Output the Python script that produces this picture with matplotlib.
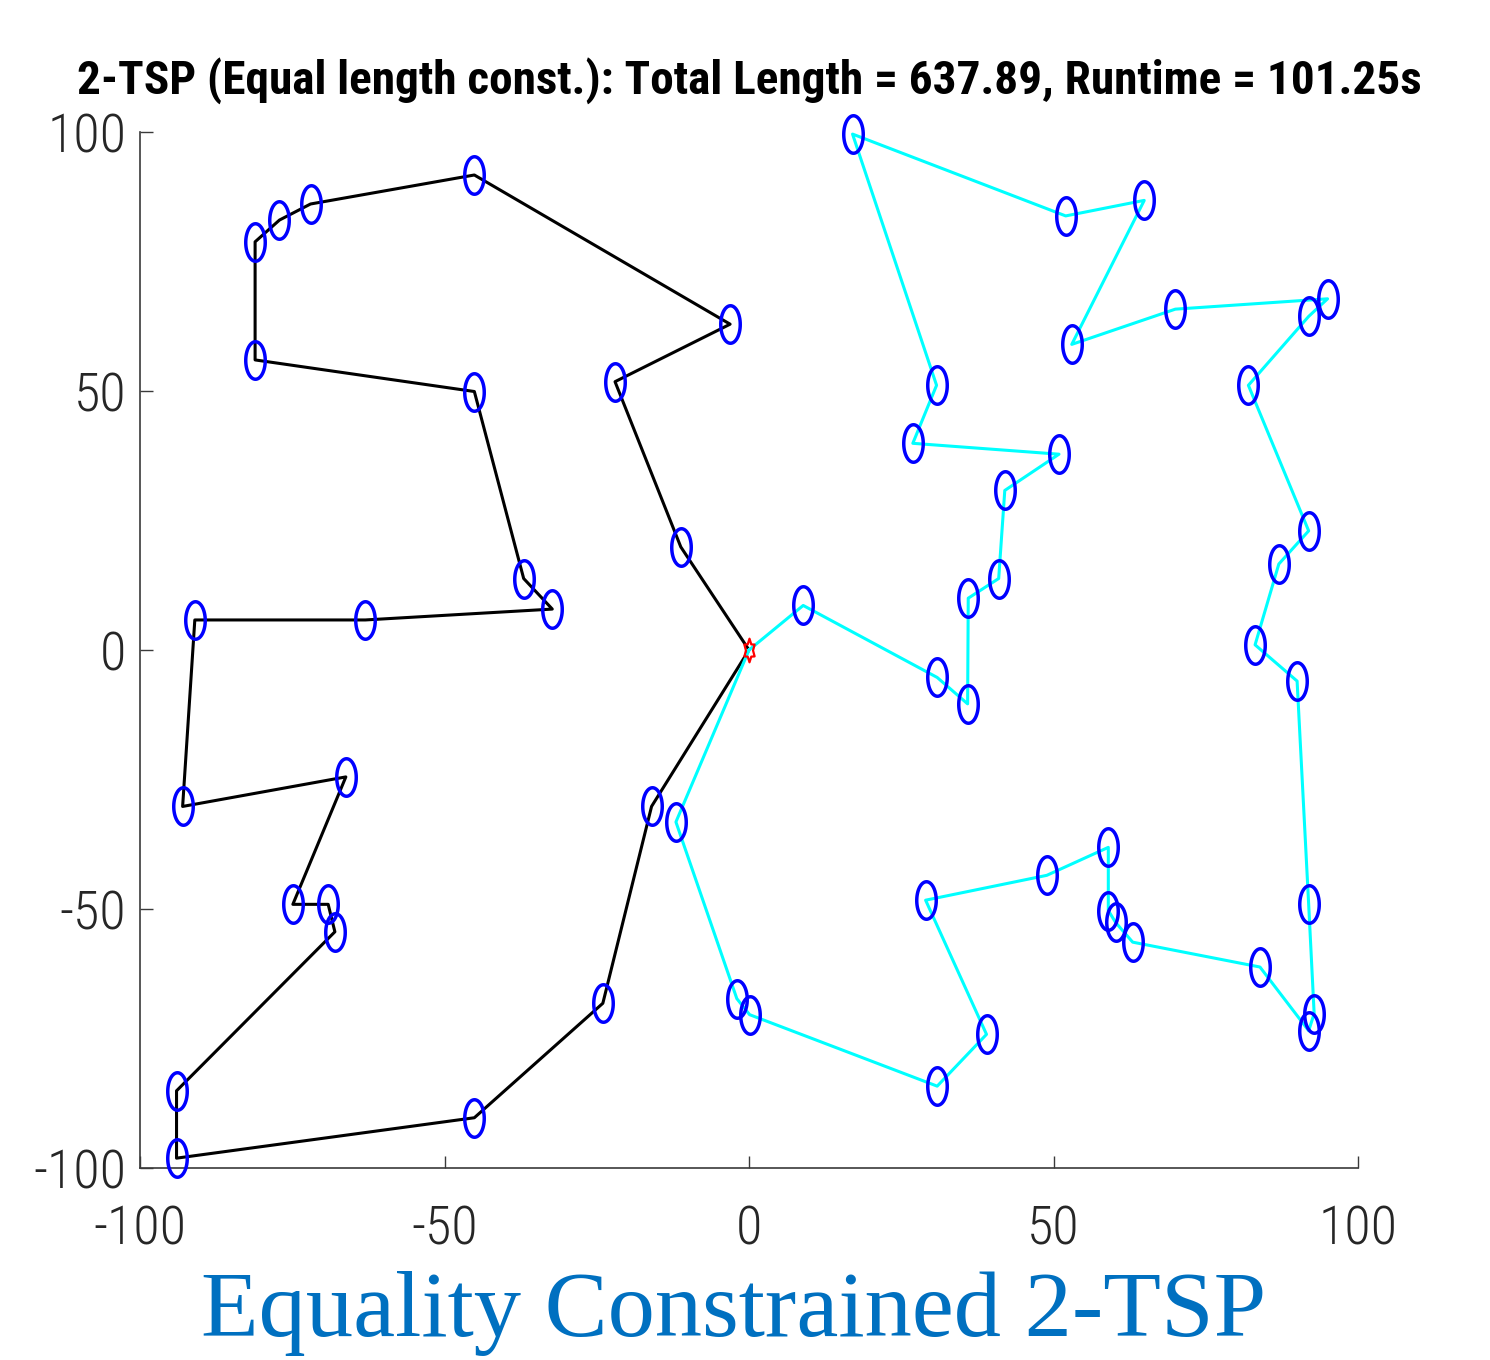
import matplotlib
matplotlib.use("Agg")
import matplotlib.pyplot as plt
from matplotlib import font_manager
from matplotlib.path import Path
import numpy as np

# ---------------- data ----------------
depot = (0.0, 0.0)

black_x = [-11.2, -22.0, -3.1, -45.1, -72.0, -77.1, -81.1, -81.1, -45.1, -37.0, -32.3,
           -63.0, -91.0, -93.0, -66.2, -74.9, -69.1, -68.0, -94.0, -94.0, -45.1, -24.0, -16.0]
black_y = [19.9, 51.8, 62.9, 91.7, 86.1, 83.0, 78.8, 56.0, 49.9, 13.8, 7.9,
           5.8, 5.8, -30.2, -24.5, -49.1, -49.1, -54.4, -85.1, -98.1, -90.3, -68.2, -30.2]

cyan_x = [8.9, 30.9, 35.9, 36.0, 41.0, 42.0, 50.9, 26.9, 30.8, 17.0, 52.0, 64.9, 53.0,
          70.0, 95.0, 91.9, 82.0, 91.9, 87.0, 83.1, 90.0, 91.9, 92.8, 91.9, 83.9, 63.0,
          60.2, 59.0, 59.0, 48.9, 29.0, 39.0, 30.9, 0.1, -2.0, -12.0]
cyan_y = [8.6, -5.3, -10.4, 10.0, 13.8, 30.8, 37.8, 39.9, 51.1, 99.6, 83.8, 86.8, 59.0,
          65.8, 67.8, 64.4, 51.1, 23.0, 16.6, 1.0, -6.0, -49.1, -70.2, -73.5, -61.2, -56.4,
          -52.6, -50.3, -38.1, -43.5, -48.3, -74.2, -84.2, -70.4, -67.3, -33.2]

x_ticks = [-100, -50, 0, 50, 100]
y_ticks = [-100, -50, 0, 50, 100]
title_text = "2-TSP (Equal length const.): Total Length = 637.89, Runtime = 101.25s"
caption_text = "Equality Constrained 2-TSP"

# ---------------- fonts ----------------
names = {f.name for f in font_manager.fontManager.ttflist}
narrow = None
for cand in ["Roboto Condensed", "Liberation Sans Narrow", "Arial Narrow",
             "Open Sans Condensed", "DejaVu Sans Condensed"]:
    if cand in names:
        narrow = cand
        break
if narrow is None:
    narrow = "Liberation Sans"

# ---------------- markers ----------------
t = np.linspace(0, 2 * np.pi, 60)
ellipse = Path(np.column_stack([0.52 * np.cos(t), np.sin(t)]), closed=True)

ang = np.linspace(np.pi / 2, np.pi / 2 + 2 * np.pi, 13)[:-1]
rad = np.where(np.arange(12) % 2 == 0, 1.0, 0.6)
star_v = np.column_stack([0.5 * rad * np.cos(ang), rad * np.sin(ang)])
star_v = np.vstack([star_v, star_v[:1]])
star = Path(star_v, closed=True)

# ---------------- figure ----------------
fig = plt.figure(figsize=(14.9, 13.6), dpi=100)
ax = fig.add_axes([140 / 1490, 1 - 1168 / 1360, 1218 / 1490, 1036 / 1360])

bx = [depot[0]] + black_x + [depot[0]]
by = [depot[1]] + black_y + [depot[1]]
cx = [depot[0]] + cyan_x + [depot[0]]
cy = [depot[1]] + cyan_y + [depot[1]]

ax.plot(bx, by, color="black", lw=2.2, zorder=2, clip_on=False)
ax.plot(cx, cy, color="cyan", lw=2.2, zorder=2, clip_on=False)
ax.plot(black_x + cyan_x, black_y + cyan_y, linestyle="none", marker=ellipse,
        markersize=27, markerfacecolor="none", markeredgecolor="blue",
        markeredgewidth=2.5, zorder=3, clip_on=False)
ax.plot([depot[0]], [depot[1]], linestyle="none", marker=star, markersize=17,
        markerfacecolor="none", markeredgecolor="red", markeredgewidth=1.6, zorder=4,
        clip_on=False)

ax.set_xlim(-100, 100)
ax.set_ylim(-100, 100)
ax.set_xticks(x_ticks)
ax.set_yticks(y_ticks)
ax.set_xticklabels([str(v) for v in x_ticks])
ax.set_yticklabels([str(v) for v in y_ticks])
for s in ["top", "right"]:
    ax.spines[s].set_visible(False)
for s in ["left", "bottom"]:
    ax.spines[s].set_color("#3a3a3a")
    ax.spines[s].set_linewidth(1.2)
ax.tick_params(direction="in", length=9, width=1.0, color="#3a3a3a",
               labelcolor="#262626", labelsize=39)
ax.tick_params(axis="x", pad=26)
ax.tick_params(axis="y", pad=10)
for lab in ax.get_xticklabels() + ax.get_yticklabels():
    lab.set_family([narrow, "DejaVu Sans"])
    lab.set_fontweight("light")

fig.text(0.503, 0.941, title_text, ha="center", va="center", fontsize=34,
         fontweight="bold", family=[narrow, "DejaVu Sans"], color="black")
fig.text(0.4926, 1 - 1336 / 1360, caption_text, ha="center", va="baseline", fontsize=68,
         family=["Liberation Serif", "DejaVu Serif"], color="#0070C0")

fig.savefig("out.png", dpi=100)
